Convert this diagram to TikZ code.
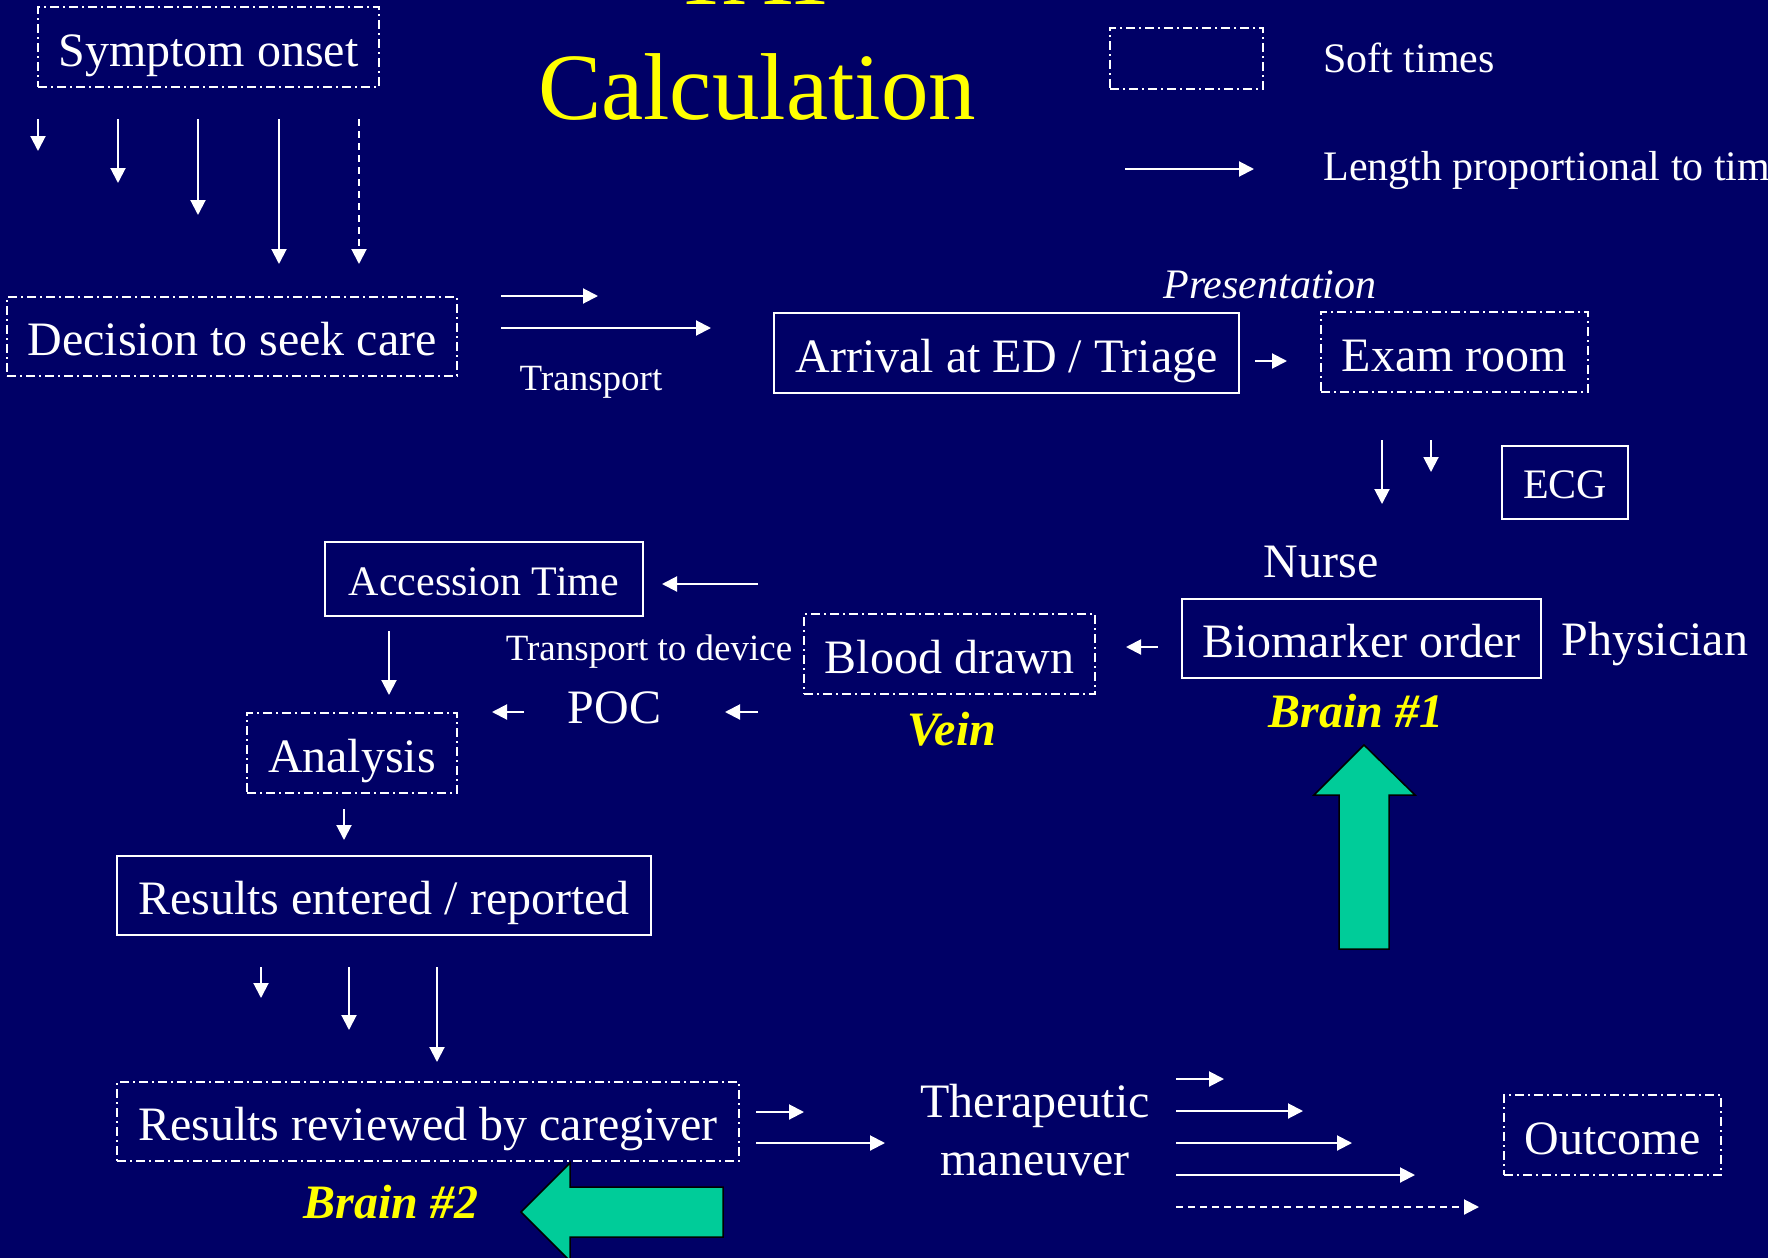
\documentclass[tikz,border=0pt]{standalone}
\usepackage{fontspec}
\setmainfont{Liberation Serif}
\usetikzlibrary{arrows.meta}
\definecolor{bg}{HTML}{000066}
\definecolor{ttl}{HTML}{FFFF00}
\definecolor{grn}{HTML}{00CC99}
\begin{document}
\begin{tikzpicture}[x=0.5pt,y=-0.5pt,
  fbig/.style={font=\fontsize{24pt}{29pt}\selectfont},
  fmid/.style={font=\fontsize{21pt}{25pt}\selectfont},
  fsml/.style={font=\fontsize{18.5pt}{22pt}\selectfont},
  ttlf/.style={font=\fontsize{47.5pt}{57pt}\selectfont, text=ttl, inner sep=0pt, anchor=base},
  lbl/.style={text=white, inner sep=0pt, anchor=base},
  brain/.style={text=ttl, inner sep=0pt, anchor=base, font=\fontsize{24pt}{29pt}\selectfont\bfseries\itshape},
  hardbox/.style={draw=white, line width=1pt, text=white, inner sep=0pt, fbig, text height=22.6pt, text depth=3.6pt},
  softbox/.style={hardbox, dash pattern=on 4.5pt off 2pt on 1pt off 2pt},
  midbox/.style={fmid, text height=19.6pt, text depth=3.6pt},
  arr/.style={draw=white, line width=1pt, -{Triangle[length=7.5pt,width=7.5pt]}},
  darr/.style={arr, dash pattern=on 3.5pt off 2.5pt},
  bigarrow/.style={fill=grn, draw=black, line width=0.75pt, line join=miter}
]
\useasboundingbox (0,0) rectangle (1768,1258);
\fill[bg] (0,0) rectangle (1768,1258);
\clip (0,0) rectangle (1768,1258);

% title
\node[ttlf] (tat) at (756,4) {TAT};
\node[ttlf] (calc) at (757,119) {Calculation};

% legend
\node[softbox, minimum width=76.5pt, minimum height=30.5pt] (legbox) at (1186.5,58.5) {};
\node[lbl, fmid, anchor=base west] (legsoft) at (1323,72) {Soft times};
\node[lbl, fmid, anchor=base west] (leglen) at (1323,180) {Length proportional to time};
\coordinate (la) at (1125,169); \coordinate (lb) at (1254,169);
\draw[arr] (la) -- (lb);

% boxes
\node[softbox, minimum width=170.5pt, minimum height=40pt] (sym) at (208.5,47) {Symptom onset};
\node[softbox, minimum width=225pt, minimum height=39.5pt] (dec) at (232,336.5) {Decision to seek care};
\node[hardbox, minimum width=232.5pt, minimum height=40pt] (arrv) at (1006.5,353) {Arrival at ED / Triage};
\node[softbox, minimum width=133.5pt, minimum height=40pt] (exam) at (1454.5,352) {Exam room};
\node[hardbox, midbox, minimum width=63pt, minimum height=36.5pt] (ecg) at (1565,482.5) {ECG};
\node[hardbox, minimum width=179.5pt, minimum height=39.5pt] (bio) at (1361.5,638.5) {Biomarker order};
\node[softbox, minimum width=145.5pt, minimum height=40pt] (blood) at (949.5,654) {Blood drawn};
\node[hardbox, midbox, minimum width=159pt, minimum height=37pt] (acc) at (484,579) {Accession Time};
\node[softbox, minimum width=105pt, minimum height=40pt] (ana) at (352,753) {Analysis};
\node[hardbox, minimum width=267pt, minimum height=39.5pt] (rent) at (384,895.5) {Results entered / reported};
\node[softbox, minimum width=311pt, minimum height=39.5pt] (rrev) at (428,1121.5) {Results reviewed by caregiver};
\node[softbox, minimum width=108.5pt, minimum height=40pt] (outc) at (1612.5,1135) {Outcome};

% labels
\node[lbl, fsml] (transp) at (591,390) {Transport};
\node[lbl, font=\fontsize{21pt}{25pt}\selectfont\itshape] (pres) at (1270,298) {Presentation};
\node[lbl, fbig] (nurse) at (1321,577) {Nurse};
\node[lbl, fbig, anchor=base west] (phys) at (1561,655) {Physician};
\node[brain] (brain1) at (1356,727) {Brain \#1};
\node[brain] (vein) at (952,745) {Vein};
\node[lbl, fsml] (tdev) at (649,660) {Transport to device};
\node[lbl, fbig] (poc) at (614.5,723) {POC};
\node[brain] (brain2) at (391,1218) {Brain \#2};
\node[lbl, fbig] (ther1) at (1035,1117) {Therapeutic};
\node[lbl, fbig] (ther2) at (1035,1175) {maneuver};

% symptom onset arrows
\foreach \x/\y [count=\i] in {38/151,118/183,198/215,279/264} {
  \coordinate (sa\i) at (\x,119); \coordinate (sb\i) at (\x,\y);
  \draw[arr] (sa\i) -- (sb\i);
}
\coordinate (sa5) at (359,119); \coordinate (sb5) at (359,264);
\draw[darr] (sa5) -- (sb5);

% transport arrows
\coordinate (ta1) at (501,296); \coordinate (tb1) at (598,296);
\coordinate (ta2) at (501,328); \coordinate (tb2) at (711,328);
\draw[arr] (ta1) -- (tb1);
\draw[arr] (ta2) -- (tb2);

% arrival -> exam
\coordinate (ae1) at (1255,361); \coordinate (ae2) at (1287,361);
\draw[arr] (ae1) -- (ae2);

% exam down
\coordinate (ed1a) at (1382,440); \coordinate (ed1b) at (1382,504);
\coordinate (ed2a) at (1431,440); \coordinate (ed2b) at (1431,472);
\draw[arr] (ed1a) -- (ed1b);
\draw[arr] (ed2a) -- (ed2b);

% biomarker -> blood
\coordinate (bb1) at (1158,647); \coordinate (bb2) at (1126,647);
\draw[arr] (bb1) -- (bb2);

% to accession
\coordinate (ac1) at (758,584); \coordinate (ac2) at (662,584);
\draw[arr] (ac1) -- (ac2);

% blood -> POC -> analysis
\coordinate (bp1) at (758,712); \coordinate (bp2) at (725,712);
\draw[arr] (bp1) -- (bp2);
\coordinate (pa1) at (524,712); \coordinate (pa2) at (492,712);
\draw[arr] (pa1) -- (pa2);

% accession -> analysis
\coordinate (aa1) at (389,631); \coordinate (aa2) at (389,695);
\draw[arr] (aa1) -- (aa2);

% analysis -> results entered
\coordinate (ar1) at (344,809); \coordinate (ar2) at (344,840);
\draw[arr] (ar1) -- (ar2);

% results entered -> reviewed
\foreach \x/\y [count=\i] in {261/998,349/1030,437/1062} {
  \coordinate (ra\i) at (\x,967); \coordinate (rb\i) at (\x,\y);
  \draw[arr] (ra\i) -- (rb\i);
}

% reviewed -> therapeutic
\coordinate (rt1a) at (756,1112); \coordinate (rt1b) at (804,1112);
\coordinate (rt2a) at (756,1143); \coordinate (rt2b) at (885,1143);
\draw[arr] (rt1a) -- (rt1b);
\draw[arr] (rt2a) -- (rt2b);

% therapeutic -> outcome
\foreach \e/\y [count=\i] in {1224/1079,1303/1111,1352/1143,1415/1175} {
  \coordinate (oa\i) at (1176,\y); \coordinate (ob\i) at (\e,\y);
  \draw[arr] (oa\i) -- (ob\i);
}
\coordinate (oa5) at (1176,1207); \coordinate (ob5) at (1479,1207);
\draw[darr] (oa5) -- (ob5);

% green arrows
\filldraw[bigarrow] (1364,745) -- (1415,795) -- (1389,795) -- (1389,949) -- (1339,949) -- (1339,795) -- (1314,795) -- cycle;
\filldraw[bigarrow] (521,1212) -- (570,1163) -- (570,1187) -- (723,1187) -- (723,1237) -- (570,1237) -- (570,1261) -- cycle;
\end{tikzpicture}
\end{document}
